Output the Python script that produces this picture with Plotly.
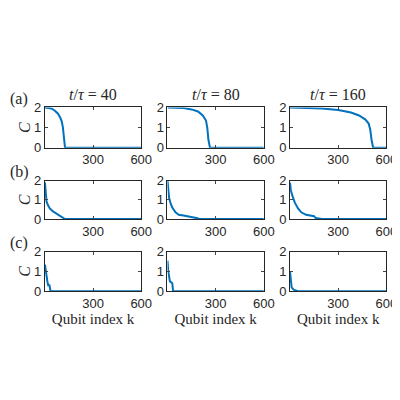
import plotly.graph_objects as go

titles = ["40", "80", "160"]
row_labels = ["(a)", "(b)", "(c)"]
xticks = [0, 300, 600]
xticklabels = ["", "300", "600"]
yticks = [0, 1, 2]

k_a1 = [0, 20, 40, 60, 80, 95, 105, 112, 118, 125, 600]
c_a1 = [2, 1.99, 1.95, 1.85, 1.7, 1.5, 1.3, 1.0, 0.4, 0, 0]
k_a2 = [0, 50, 100, 150, 190, 220, 240, 248, 255, 265, 600]
c_a2 = [2, 1.99, 1.97, 1.9, 1.8, 1.6, 1.35, 1.0, 0.4, 0, 0]
k_a3 = [0, 100, 200, 300, 380, 430, 470, 490, 500, 508, 518, 600]
c_a3 = [2, 1.99, 1.95, 1.87, 1.75, 1.6, 1.4, 1.2, 0.9, 0.4, 0, 0]
k_b1 = [0, 5, 10, 20, 30, 50, 70, 90, 110, 125, 600]
c_b1 = [1.9, 1.3, 0.9, 0.7, 0.55, 0.4, 0.3, 0.2, 0.1, 0, 0]
k_b2 = [0, 5, 10, 20, 30, 50, 70, 100, 150, 180, 200, 600]
c_b2 = [2, 1.5, 1.1, 0.8, 0.6, 0.35, 0.22, 0.18, 0.12, 0.05, 0, 0]
k_b3 = [0, 5, 15, 30, 50, 70, 100, 130, 150, 160, 200, 600]
c_b3 = [1.9, 1.5, 1.2, 0.85, 0.55, 0.35, 0.22, 0.18, 0.15, 0.05, 0, 0]
k_c1 = [0, 5, 15, 20, 28, 35, 600]
c_c1 = [1.35, 1.0, 0.5, 0.3, 0.3, 0, 0]
k_c2 = [0, 5, 15, 20, 30, 35, 600]
c_c2 = [1.55, 1.0, 0.5, 0.45, 0.4, 0, 0]
k_c3 = [0, 5, 10, 20, 30, 50, 600]
c_c3 = [1.0, 0.6, 0.2, 0.1, 0.05, 0, 0]

data = [[(k_a1, c_a1), (k_a2, c_a2), (k_a3, c_a3)],
        [(k_b1, c_b1), (k_b2, c_b2), (k_b3, c_b3)],
        [(k_c1, c_c1), (k_c2, c_c2), (k_c3, c_c3)]]

xdom = [(0.095, 0.3425), (0.41, 0.6575), (0.725, 0.9725)]
ydom = [(0.655, 0.76), (0.47, 0.57), (0.2825, 0.385)]

fig = go.Figure()
layout = dict(width=400, height=400, margin=dict(l=0, r=0, t=0, b=0),
              paper_bgcolor="white", plot_bgcolor="white", showlegend=False,
              font=dict(family="Liberation Sans", size=13, color="#262626"))
ann = []
n = 0
for r in range(3):
    for c in range(3):
        n += 1
        s = "" if n == 1 else str(n)
        k, v = data[r][c]
        fig.add_trace(go.Scatter(x=k, y=v, mode="lines", xaxis="x" + s, yaxis="y" + s,
                                 line=dict(color="#0072BD", width=2)))
        ax = dict(domain=list(xdom[c]), range=[0, 600], tickvals=xticks, ticktext=xticklabels,
                  ticks="inside", ticklen=3, showgrid=False, zeroline=False, mirror="ticks",
                  showline=True, linecolor="#262626", linewidth=1, anchor="y" + s,
                  tickfont=dict(size=13))
        ay = dict(domain=list(ydom[r]), range=[0, 2], tickvals=yticks, ticks="inside", ticklen=3,
                  showgrid=False, zeroline=False, mirror="ticks", showline=True,
                  linecolor="#262626", linewidth=1, anchor="x" + s, tickfont=dict(size=13))
        if r == 2:
            ax["title"] = dict(text="Qubit index k", font=dict(family="Liberation Serif", size=15), standoff=2)
        layout["xaxis" + s] = ax
        layout["yaxis" + s] = ay
    ann.append(dict(text="<i>C</i>", x=0.042, y=sum(ydom[r]) / 2, xref="paper", yref="paper",
                    xanchor="center", yanchor="middle",
                    showarrow=False, textangle=-90, font=dict(family="Liberation Serif", size=16)))
    ann.append(dict(text=row_labels[r], x=0.0, y=ydom[r][1] + 0.023, xref="paper", yref="paper",
                    xanchor="left", yanchor="middle", showarrow=False,
                    font=dict(family="Liberation Serif", size=16)))
for c in range(3):
    ann.append(dict(text="<i>t</i>/<i>τ</i> = " + titles[c], x=sum(xdom[c]) / 2,
                    y=0.765, xref="paper", yref="paper", xanchor="center", yanchor="bottom",
                    showarrow=False, font=dict(family="Liberation Serif", size=16)))
layout["annotations"] = ann
fig.update_layout(**layout)
fig.write_html("out.html")
